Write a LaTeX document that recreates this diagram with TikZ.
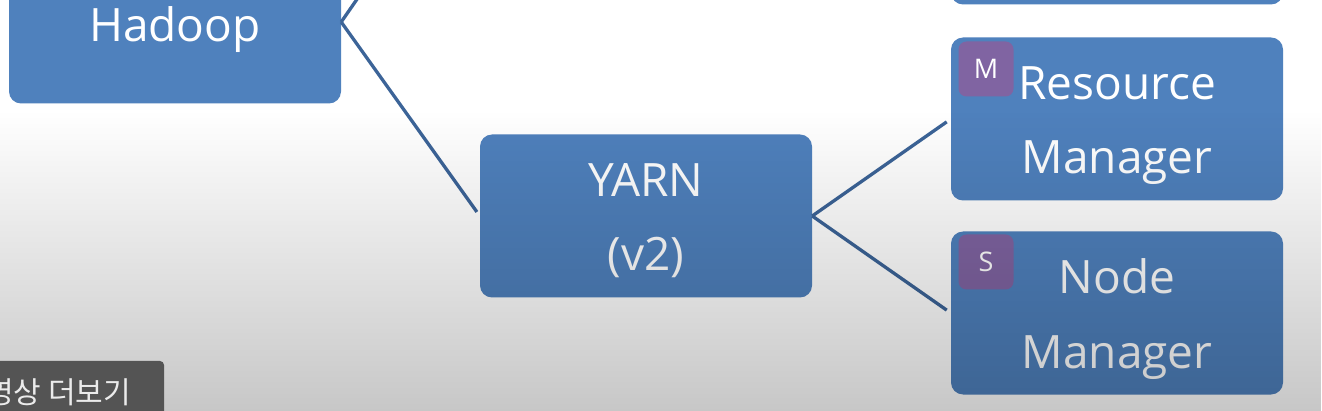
\documentclass[tikz,border=0pt]{standalone}
\usepackage{fontspec}
\setmainfont{Open Sans}
\newfontfamily\kofont{Noto Sans CJK KR}
\usetikzlibrary{fadings}
\definecolor{boxblue}{RGB}{79,129,189}
\definecolor{linkblue}{RGB}{60,100,152}
\definecolor{tagpurple}{RGB}{128,100,162}
\definecolor{barsgrey}{RGB}{84,84,84}
\tikzfading[name=dimdown, top color=transparent!100, middle color=transparent!70, bottom color=transparent!0]
\begin{document}
\begin{tikzpicture}[x=1pt, y=-1pt,
    blockbox/.style={fill=boxblue, rounded corners=12pt, minimum width=332pt, minimum height=163pt, inner sep=0pt, text=white, font=\fontsize{46}{74}\selectfont, align=center},
    oneline/.style={text height=50pt, text depth=10pt},
    twoline/.style={text height=112pt, text depth=2pt},
    tagbox/.style={fill=tagpurple, rounded corners=8pt, minimum size=55pt, inner sep=0pt, text=white, font=\fontsize{27}{27}\selectfont},
    link/.style={draw=linkblue, line width=3.3pt, shorten >=5pt}]
    \clip (0,0) rectangle (1322,411);
    \fill[white] (0,0) rectangle (1322,411);
    \node[blockbox, oneline] (hadoop) at (175,22) {Hadoop};
    \node[blockbox] (topbox) at (1117,-77) {};
    \node[blockbox, twoline] (yarn) at (646,216) {YARN\\(v2)};
    \node[blockbox, twoline] (rm) at (1117,119) {Resource\\Manager};
    \node[blockbox, twoline] (nm) at (1117,313) {Node\\Manager};
    \node[tagbox] (tagm) at (986,69) {M};
    \node[tagbox] (tags) at (986,262) {S};
    \coordinate (upper) at (475,-171);
    \draw[link] (hadoop.east) -- (upper);
    \draw[link] (hadoop.east) -- (yarn.west);
    \draw[link] (yarn.east) -- (rm.west);
    \draw[link] (yarn.east) -- (nm.west);
    % dimming towards the bottom
    \fill[black, opacity=0.22, path fading=dimdown] (0,110) rectangle (1322,411);
    \fill[barsgrey, rounded corners=4pt] (-10,361) rectangle (164,420);
    \node[anchor=base west, inner sep=0pt, text=white!92!black, font=\kofont\fontsize{30}{30}\selectfont] (morelink) at (-14,403) {영상 더보기};
\end{tikzpicture}
\end{document}
